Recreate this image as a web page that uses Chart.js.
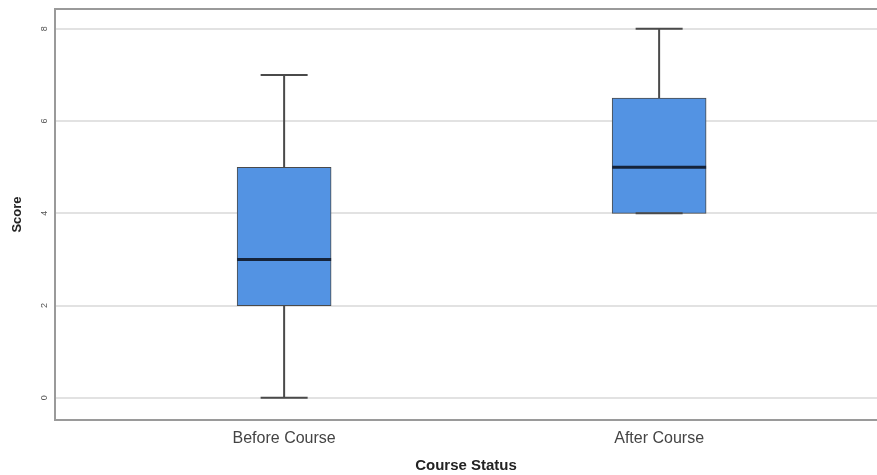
<!DOCTYPE html>
<html lang="en">
<head>
  <meta charset="UTF-8" />
  <title>Score by Course Status</title>
  <script src="https://cdn.jsdelivr.net/npm/chart.js@4/dist/chart.umd.min.js"></script>
  <style>
    body { margin: 0; background: #fff; }
    .wrap { width: 877px; height: 475px; }
  </style>
</head>
<body>
  <div class="wrap"><canvas id="box"></canvas></div>

  <script>
    // --- data ---
    const categories = ['Before Course', 'After Course'];
    const mins    = [0, 4];
    const q1s     = [2, 4];
    const medians = [3, 5];
    const q3s     = [5, 6.5];
    const maxs    = [7, 8];
    const yTicks  = [0, 2, 4, 6, 8];

    const boxColor = '#5393e3';
    const boxPx = 94;

    // whiskers, caps, medians, frame, rotated y labels
    const boxExtras = {
      id: 'boxExtras',
      afterDatasetsDraw(chart) {
        const { ctx, scales: { x, y }, chartArea } = chart;
        ctx.save();
        categories.forEach((c, i) => {
          const cx = x.getPixelForValue(i + 1);
          ctx.strokeStyle = '#4a4a4a';
          ctx.lineWidth = 2;
          ctx.beginPath();
          ctx.moveTo(cx, y.getPixelForValue(q3s[i]));
          ctx.lineTo(cx, y.getPixelForValue(maxs[i]));
          ctx.moveTo(cx, y.getPixelForValue(q1s[i]));
          ctx.lineTo(cx, y.getPixelForValue(mins[i]));
          ctx.stroke();
          ctx.beginPath();
          ctx.moveTo(cx - boxPx / 4, y.getPixelForValue(maxs[i]));
          ctx.lineTo(cx + boxPx / 4, y.getPixelForValue(maxs[i]));
          ctx.moveTo(cx - boxPx / 4, y.getPixelForValue(mins[i]));
          ctx.lineTo(cx + boxPx / 4, y.getPixelForValue(mins[i]));
          ctx.stroke();
          // median
          ctx.strokeStyle = '#15233a';
          ctx.lineWidth = 3;
          ctx.beginPath();
          ctx.moveTo(cx - boxPx / 2, y.getPixelForValue(medians[i]));
          ctx.lineTo(cx + boxPx / 2, y.getPixelForValue(medians[i]));
          ctx.stroke();
        });
        // top frame line
        ctx.strokeStyle = '#9a9a9a';
        ctx.lineWidth = 2;
        ctx.beginPath();
        ctx.moveTo(chartArea.left, chartArea.top);
        ctx.lineTo(chartArea.right, chartArea.top);
        ctx.stroke();
        // rotated y tick labels
        ctx.fillStyle = '#555';
        ctx.font = '9px "Liberation Sans", Arial, sans-serif';
        ctx.textAlign = 'center';
        ctx.textBaseline = 'middle';
        y.ticks.forEach(t => {
          ctx.save();
          ctx.translate(y.right - 10, y.getPixelForValue(t.value));
          ctx.rotate(-Math.PI / 2);
          ctx.fillText(String(t.value), 0, 0);
          ctx.restore();
        });
        ctx.restore();
      }
    };

    new Chart(document.getElementById('box'), {
      type: 'bar',
      data: {
        datasets: [{
          data: categories.map((c, i) => ({ x: i + 1, y: [q1s[i], q3s[i]] })),
          backgroundColor: boxColor,
          borderColor: '#4a4a4a',
          borderWidth: 1,
          borderSkipped: false,
          barThickness: boxPx
        }]
      },
      options: {
        responsive: true,
        maintainAspectRatio: false,
        animation: false,
        layout: { padding: { top: 9, left: 0, right: 0, bottom: 0 } },
        plugins: { legend: { display: false }, tooltip: { enabled: false } },
        scales: {
          x: {
            type: 'linear',
            offset: false,
            bounds: 'ticks',
            min: 0.389,
            max: 2.581,
            afterBuildTicks: s => { s.ticks = categories.map((c, i) => ({ value: i + 1 })); },
            afterFit: s => { s.height = 55; },
            ticks: {
              padding: 1,
              color: '#444',
              font: { family: '"Liberation Sans", Arial, sans-serif', size: 16 },
              callback: v => categories[v - 1]
            },
            grid: { display: false },
            border: { color: '#9a9a9a', width: 2 },
            title: {
              display: true,
              text: 'Course Status',
              color: '#222',
              font: { family: '"Liberation Sans", Arial, sans-serif', size: 15, weight: 'bold' },
              padding: { top: 0, bottom: 0 }
            }
          },
          y: {
            min: -0.48,
            max: 8.43,
            afterBuildTicks: s => { s.ticks = yTicks.map(v => ({ value: v })); },
            afterFit: s => { s.width = 55; },
            ticks: { display: false },
            grid: { color: '#e2e2e2', lineWidth: 2, drawTicks: false },
            border: { color: '#9a9a9a', width: 2 },
            title: {
              display: true,
              text: 'Score',
              color: '#222',
              font: { family: '"Liberation Sans", Arial, sans-serif', size: 13, weight: 'bold' },
              padding: { top: 10, bottom: 0 }
            }
          }
        }
      },
      plugins: [boxExtras]
    });
  </script>
</body>
</html>
